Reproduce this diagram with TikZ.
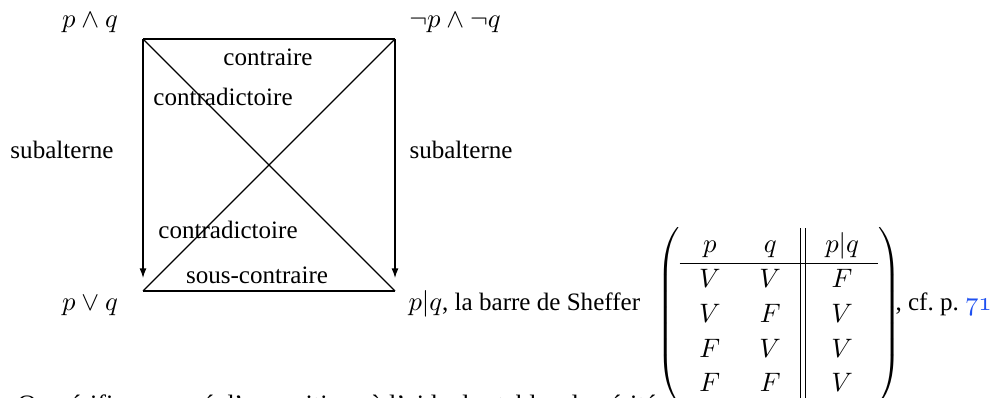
\documentclass[tikz,border=0pt]{standalone}
\usepackage{fontspec}
\setmainfont{Liberation Serif}[Scale=0.94]
\usetikzlibrary{arrows.meta}
\definecolor{linkblue}{RGB}{30,80,240}
\begin{document}
\begin{tikzpicture}[x=0.375pt,y=-0.375pt,
  lbl/.style={inner sep=0pt, anchor=base, font=\fontsize{10}{12}\selectfont},
  edge/.style={line width=0.45pt},
  subarrow/.style={edge,-{Latex[length=3.6pt,width=2.6pt]}}]
\useasboundingbox (0,0) rectangle (996,398);
\clip (0,0) rectangle (996,398);
% corners
\coordinate (A) at (143,39);
\coordinate (B) at (395,39);
\coordinate (C) at (143,291);
\coordinate (D) at (395,291);
\coordinate (Cend) at (143,278);
\coordinate (Dend) at (395,278);
% lines
\draw[edge] (A) -- (B);
\draw[edge] (C) -- (D);
\draw[edge] (A) -- (D);
\draw[edge] (B) -- (C);
\draw[subarrow] (A) -- (Cend);
\draw[subarrow] (B) -- (Dend);
% corner labels
\node[lbl] (pq) at (90,28) {$p\wedge q$};
\node[lbl] (npnq) at (455,28) {$\neg p\wedge\neg q$};
\node[lbl] (pvq) at (90,310) {$p\vee q$};
% relation labels
\node[lbl] (contraire) at (268,66) {contraire};
\node[lbl] (contra1) at (223,106) {contradictoire};
\node[lbl] (subL) at (62,159) {subalterne};
\node[lbl] (subR) at (461,159) {subalterne};
\node[lbl] (contra2) at (228,239) {contradictoire};
\node[lbl] (souscontraire) at (257,283) {sous-contraire};
% Sheffer
\node[lbl, anchor=base west] (sheffer) at (408,310) {$p|q$, la barre de Sheffer};
\node[lbl, anchor=center] (table) at (779,315) {$\left(\renewcommand{\arraystretch}{1.08}\setlength{\arraycolsep}{7.3pt}\begin{array}{cc||c}
  p & q & p|q\\ \hline
  V & V & F\\
  V & F & V\\
  F & V & V\\
  F & F & V
  \end{array}\right)$};
\node[lbl, anchor=base west] (cf) at (895,310) {, cf.~p.~\textcolor{linkblue}{$\mathnormal{71}$}};
% bottom sentence (cut)
\node[lbl, anchor=base east, xscale=1.05] (bottom) at (657,412) {On vérifie ce carré d’oppositions à l’aide des tables de vérité};
\end{tikzpicture}
\end{document}
